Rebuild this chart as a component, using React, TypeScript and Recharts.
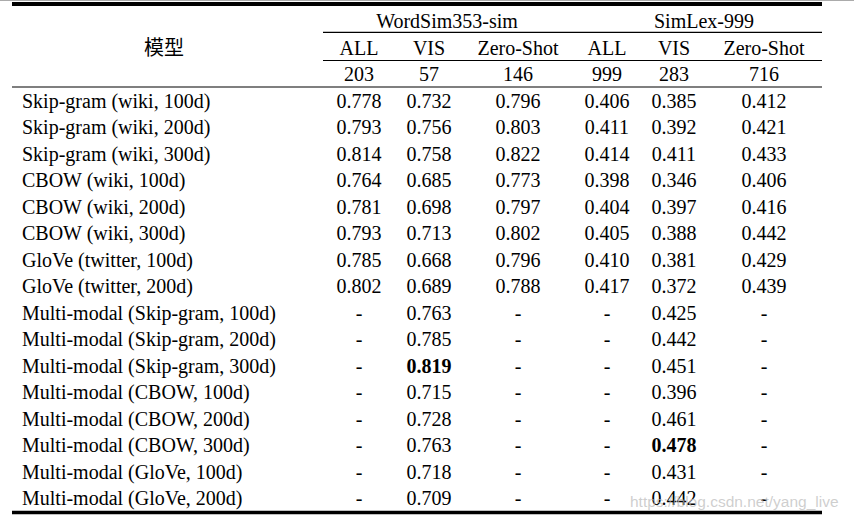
import React from "react";
import { ScatterChart, Scatter, XAxis, YAxis, ReferenceLine } from "recharts";

// ---- data ----
const MODELS = [
  "Skip-gram (wiki, 100d)",
  "Skip-gram (wiki, 200d)",
  "Skip-gram (wiki, 300d)",
  "CBOW (wiki, 100d)",
  "CBOW (wiki, 200d)",
  "CBOW (wiki, 300d)",
  "GloVe (twitter, 100d)",
  "GloVe (twitter, 200d)",
  "Multi-modal (Skip-gram, 100d)",
  "Multi-modal (Skip-gram, 200d)",
  "Multi-modal (Skip-gram, 300d)",
  "Multi-modal (CBOW, 100d)",
  "Multi-modal (CBOW, 200d)",
  "Multi-modal (CBOW, 300d)",
  "Multi-modal (GloVe, 100d)",
  "Multi-modal (GloVe, 200d)",
];
const DATASETS = ["WordSim353-sim", "SimLex-999"];
const SUBCOLS = ["ALL", "VIS", "Zero-Shot"];
const COUNTS = [203, 57, 146, 999, 283, 716];
const WS_ALL = [0.778, 0.793, 0.814, 0.764, 0.781, 0.793, 0.785, 0.802, null, null, null, null, null, null, null, null];
const WS_VIS = [0.732, 0.756, 0.758, 0.685, 0.698, 0.713, 0.668, 0.689, 0.763, 0.785, 0.819, 0.715, 0.728, 0.763, 0.718, 0.709];
const WS_ZERO = [0.796, 0.803, 0.822, 0.773, 0.797, 0.802, 0.796, 0.788, null, null, null, null, null, null, null, null];
const SL_ALL = [0.406, 0.411, 0.414, 0.398, 0.404, 0.405, 0.41, 0.417, null, null, null, null, null, null, null, null];
const SL_VIS = [0.385, 0.392, 0.411, 0.346, 0.397, 0.388, 0.381, 0.372, 0.425, 0.442, 0.451, 0.396, 0.461, 0.478, 0.431, 0.442];
const SL_ZERO = [0.412, 0.421, 0.433, 0.406, 0.416, 0.442, 0.429, 0.439, null, null, null, null, null, null, null, null];
const BEST = [
  { col: 1, row: 10 },
  { col: 4, row: 13 },
];
const HEADER_LABEL = "模型";
const WATERMARK = "https://blog.csdn.net/yang_live";

// ---- layout ----
const W = 854;
const H = 524;
const TABLE_LEFT = 12;
const TABLE_RIGHT = 822;
const DATA_LEFT = 323;
const LABEL_X = 22;
const MODEL_HEADER_X = 164;
const COL_X = [359, 429, 518, 607, 674, 764];
const DATASET_X = [447, 704];
const FONT = "'Liberation Serif', 'Times New Roman', 'Noto Sans CJK SC', serif";

type Cell = { x: number; row: number; text: string; bold?: boolean; anchor?: string };

const SERIES = [WS_ALL, WS_VIS, WS_ZERO, SL_ALL, SL_VIS, SL_ZERO];

const cells: Cell[] = [];
DATASETS.forEach((d, i) => cells.push({ x: DATASET_X[i], row: 0, text: d }));
cells.push({ x: MODEL_HEADER_X, row: 1, text: HEADER_LABEL });
COL_X.forEach((x, i) => {
  cells.push({ x, row: 1, text: SUBCOLS[i % 3] });
  cells.push({ x, row: 2, text: String(COUNTS[i]) });
});
MODELS.forEach((m, r) => {
  cells.push({ x: LABEL_X, row: r + 3, text: m, anchor: "start" });
  SERIES.forEach((s, c) => {
    const v = s[r];
    cells.push({
      x: COL_X[c],
      row: r + 3,
      text: v == null ? "-" : v.toFixed(3),
      bold: BEST.some((b) => b.col === c && b.row === r),
    });
  });
});

const CellText = (props: any) => {
  const { cx, cy, payload } = props;
  return (
    <text
      x={cx}
      y={cy}
      textAnchor={payload.anchor || "middle"}
      dominantBaseline="central"
      fontFamily={FONT}
      fontSize={20}
      fontWeight={payload.bold ? 700 : 400}
      fill="#000"
    >
      {payload.text}
    </text>
  );
};

const seg = (x1: number, x2: number, y: number) => [
  { x: x1, y },
  { x: x2, y },
];

export default function App() {
  return (
    <div style={{ position: "absolute", left: 0, top: 0, width: W, height: H, background: "#fff" }}>
      <ScatterChart width={W} height={H} margin={{ top: 7.75, right: 0, bottom: 12.75, left: 0 }}>
        <XAxis type="number" dataKey="x" domain={[0, W]} allowDataOverflow hide />
        <YAxis type="number" dataKey="row" domain={[-0.5, 18.5]} allowDataOverflow reversed hide />
        <ReferenceLine segment={seg(0, W, -0.774)} stroke="#aaa" strokeWidth={1} ifOverflow="visible" />
        <ReferenceLine segment={seg(TABLE_LEFT, TABLE_RIGHT, -0.64)} stroke="#000" strokeWidth={4} ifOverflow="visible" />
        <ReferenceLine segment={seg(DATA_LEFT, TABLE_RIGHT, 0.43)} stroke="#000" strokeWidth={1.2} ifOverflow="visible" />
        <ReferenceLine segment={seg(DATA_LEFT, TABLE_RIGHT, 1.49)} stroke="#000" strokeWidth={1.2} ifOverflow="visible" />
        <ReferenceLine segment={seg(TABLE_LEFT, TABLE_RIGHT, 2.49)} stroke="#000" strokeWidth={1.2} ifOverflow="visible" />
        <ReferenceLine segment={seg(TABLE_LEFT, TABLE_RIGHT, 18.55)} stroke="#000" strokeWidth={3.5} ifOverflow="visible" />
        <Scatter data={cells} shape={CellText} isAnimationActive={false} />
      </ScatterChart>
      <div
        style={{
          position: "absolute",
          left: 630,
          top: 493,
          fontFamily: "'Liberation Sans', Arial, sans-serif",
          fontSize: 15.5,
          color: "rgba(185,185,185,0.7)",
          whiteSpace: "nowrap",
          pointerEvents: "none",
        }}
      >
        {WATERMARK}
      </div>
    </div>
  );
}
